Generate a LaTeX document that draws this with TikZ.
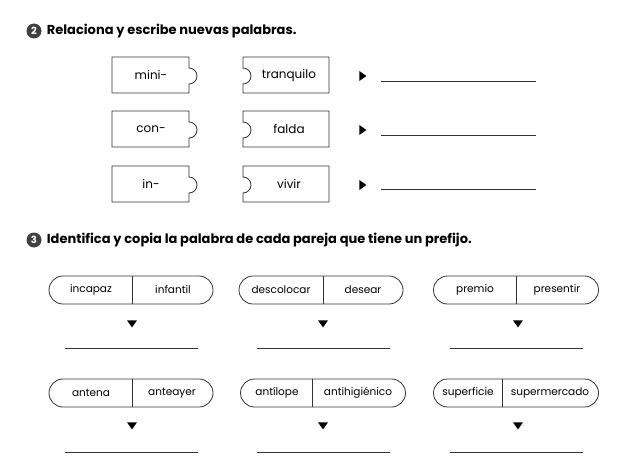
\documentclass[tikz,border=0pt]{standalone}
\usepackage{fontspec}
\setmainfont{Poppins}
\usetikzlibrary{positioning, shapes.geometric, shapes.misc}

\begin{document}
\begin{tikzpicture}[x=1pt, y=-1pt,
      num/.style={circle, fill=black!75, text=white, inner sep=0pt, minimum size=15pt, font=\fontsize{10}{12}\selectfont\bfseries},
      title/.style={anchor=west, inner sep=0pt, font=\fontsize{13}{15}\selectfont\bfseries},
      piece/.style={draw=black!80, line width=0.8pt},
      word/.style={inner sep=1pt, font=\fontsize{12}{14}\selectfont},
      pair/.style={inner sep=1pt, font=\fontsize{10.5}{12}\selectfont},
      capsule/.style={rounded rectangle, draw=black!80, line width=0.8pt, minimum height=28pt, inner sep=0pt},
      tri right/.style={isosceles triangle, isosceles triangle apex angle=70, fill=black, inner sep=0pt, minimum height=7pt},
      tri down/.style={isosceles triangle, isosceles triangle apex angle=70, fill=black, inner sep=0pt, minimum height=7pt, shape border rotate=-90},
      answer/.style={draw=black!80, line width=0.8pt}]
    \useasboundingbox (0,0) rectangle (640,468);

    %% exercise 2
    \node[num] (n2) at (34,31) {2};
    \node[title] (t2) [right=5pt of n2] {Relaciona y escribe nuevas palabras.};

    \draw[piece] (112,57) -- (189,57) -- (189,68) arc(-90:90:8) -- (189,93) -- (112,93) -- cycle;
    \draw[piece] (243,57) -- (329,57) -- (329,93) -- (243,93) -- (243,84) arc(90:-90:8) -- cycle;
    \node[word] (mini) at (151,75) {mini-};
    \node[word] (tranquilo) at (289,75) {tranquilo};
    \node[tri right] (a1) at (362,76) {};
    \coordinate (l1) at (381,81);
    \coordinate (r1) at (536,81);
    \draw[answer] (l1) -- (r1);

    \draw[piece] (112,111) -- (189,111) -- (189,122) arc(-90:90:8) -- (189,147) -- (112,147) -- cycle;
    \draw[piece] (243,111) -- (329,111) -- (329,147) -- (243,147) -- (243,138) arc(90:-90:8) -- cycle;
    \node[word] (con) at (151,129) {con-};
    \node[word] (falda) at (289,129) {falda};
    \node[tri right] (a2) at (362,130) {};
    \coordinate (l2) at (381,135);
    \coordinate (r2) at (536,135);
    \draw[answer] (l2) -- (r2);

    \draw[piece] (112,166) -- (189,166) -- (189,177) arc(-90:90:8) -- (189,202) -- (112,202) -- cycle;
    \draw[piece] (243,166) -- (329,166) -- (329,202) -- (243,202) -- (243,193) arc(90:-90:8) -- cycle;
    \node[word] (in) at (151,184) {in-};
    \node[word] (vivir) at (289,184) {vivir};
    \node[tri right] (a3) at (362,185) {};
    \coordinate (l3) at (381,189);
    \coordinate (r3) at (536,189);
    \draw[answer] (l3) -- (r3);

    %% exercise 3
    \node[num] (n3) at (34,240) {3};
    \node[title] (t3) [right=5pt of n3] {Identifica y copia la palabra de cada pareja que tiene un prefijo.};

    % first row
    \node[capsule, minimum width=164pt] (c1) at (131,290) {};
    \draw[piece] (132,276) -- (132,304);
    \node[pair] (incapaz) at (91,290) {incapaz};
    \node[pair] (infantil) at (173,290) {infantil};
    \node[tri down] (d1) at (132,323) {};
    \draw[answer] (65,348) -- (198,348);

    \node[capsule, minimum width=164pt] (c2) at (321,290) {};
    \draw[piece] (323,276) -- (323,304);
    \node[pair] (descolocar) at (281,290) {descolocar};
    \node[pair] (desear) at (363,290) {desear};
    \node[tri down] (d2) at (323,323) {};
    \draw[answer] (257,348) -- (390,348);

    \node[capsule, minimum width=165pt] (c3) at (516,290) {};
    \draw[piece] (516,276) -- (516,304);
    \node[pair] (premio) at (475,290) {premio};
    \node[pair] (presentir) at (557,290) {presentir};
    \node[tri down] (d3) at (518,323) {};
    \draw[answer] (450,348) -- (583,348);

    % second row
    \node[capsule, minimum width=164pt] (c4) at (131,393) {};
    \draw[piece] (132,379) -- (132,407);
    \node[pair] (antena) at (91,393) {antena};
    \node[pair] (anteayer) at (172,393) {anteayer};
    \node[tri down] (d4) at (132,425) {};
    \draw[answer] (65,452) -- (198,452);

    \node[capsule, minimum width=165pt] (c5) at (323,393) {};
    \draw[piece] (312,379) -- (312,407);
    \node[pair] (antilope) at (277,393) {antílope};
    \node[pair] (antihigienico) at (358,393) {antihigiénico};
    \node[tri down] (d5) at (323,425) {};
    \draw[answer] (257,452) -- (390,452);

    \node[capsule, minimum width=165pt] (c6) at (516,393) {};
    \draw[piece] (502,379) -- (502,407);
    \node[pair] (superficie) at (468,393) {superficie};
    \node[pair] (supermercado) at (550,393) {supermercado};
    \node[tri down] (d6) at (518,425) {};
    \draw[answer] (450,452) -- (583,452);
\end{tikzpicture}
\end{document}
